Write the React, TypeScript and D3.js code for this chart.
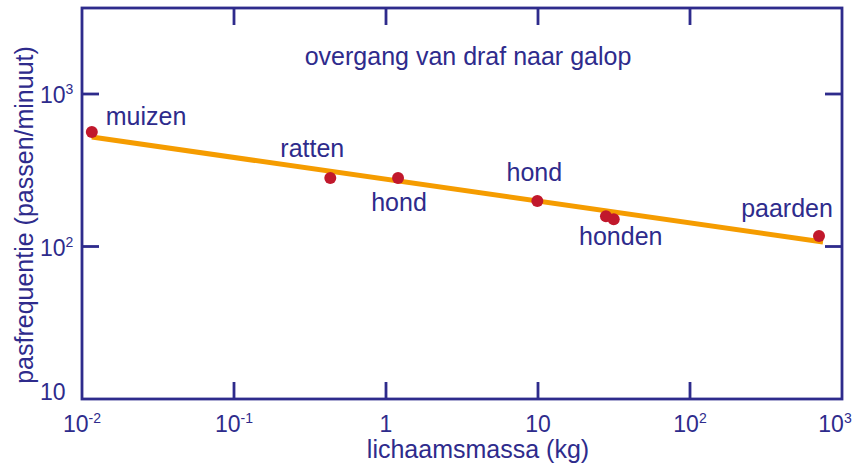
import React from "react";
import * as d3 from "d3";

// ---- data ----
const massKg = [0.0116, 0.43, 1.2, 9.9, 28, 31.5, 706];
const stepFreq = [564, 281, 281, 199, 158, 151, 117];
const fitMass = [0.0116, 750];
const fitFreq = [522, 107];
const labelTexts = ["muizen", "ratten", "hond", "hond", "honden", "paarden"];
const labelPointIndex = [0, 1, 2, 3, 5, 6];
const xTickValues = [0.01, 0.1, 1, 10, 100, 1000];
const xTickExp = ["-2", "-1", "", "", "2", "3"];
const xTickBase = ["10", "10", "1", "10", "10", "10"];
const yTickValues = [10, 100, 1000];
const yTickBase = ["10", "10", "10"];
const yTickExp = ["", "2", "3"];
const title = "overgang van draf naar galop";
const xTitle = "lichaamsmassa (kg)";
const yTitle = "pasfrequentie (passen/minuut)";

// ---- layout ----
const W = 868, H = 467;
const L = 82, R = 842, T = 8, B = 399;
const BLUE = "#2e2b8c";
const RED = "#c1182c";
const ORANGE = "#f59c00";
const FONT = "'Liberation Sans', Arial, Helvetica, sans-serif";
const TICK = 17;
// label offsets (px) relative to their point: [dx, dy, anchor]
const labelOffsets: [number, number, string][] = [
  [14, -7, "start"],
  [-18, -21, "middle"],
  [1, 33, "middle"],
  [-3, -20, "middle"],
  [7, 26, "middle"],
  [-32, -19, "middle"],
];

export default function App() {
  const x = d3.scaleLog().domain([0.01, 1000]).range([L, R]);
  const y = d3.scaleLog().domain([10, Math.pow(10, 3.564)]).range([B, T]);
  const line = d3
    .line<number>()
    .x((_, i) => x(fitMass[i]))
    .y((d) => y(d));

  const innerX = xTickValues.filter((v) => v > 0.01 && v < 1000);
  const innerY = yTickValues.filter((v) => v > 10);

  return (
    <svg
      width={W}
      height={H}
      style={{ position: "absolute", left: 0, top: 0, background: "#fff" }}
      fontFamily={FONT}
    >
      {/* frame */}
      <rect x={L} y={T} width={R - L} height={B - T} fill="none" stroke={BLUE} strokeWidth={2.8} />
      {/* x ticks bottom and top */}
      {innerX.map((v, i) => (
        <g key={"xt" + i} stroke={BLUE} strokeWidth={2.8}>
          <line x1={x(v)} x2={x(v)} y1={B} y2={B - TICK} />
          <line x1={x(v)} x2={x(v)} y1={T} y2={T + TICK} />
        </g>
      ))}
      {innerY.map((v, i) => (
        <g key={"yt" + i} stroke={BLUE} strokeWidth={2.8}>
          <line x1={L} x2={L + TICK} y1={y(v)} y2={y(v)} />
          <line x1={R} x2={R - TICK} y1={y(v)} y2={y(v)} />
        </g>
      ))}
      {/* x tick labels */}
      {xTickValues.map((v, i) => (
        <text
          key={"xl" + i}
          x={x(v) + (i === xTickValues.length - 1 ? -7 : 0)}
          y={432}
          fill={BLUE}
          fontSize={23}
          textAnchor="middle"
        >
          {xTickBase[i]}
          {xTickExp[i] && (
            <tspan fontSize={14} dy={-9}>
              {xTickExp[i]}
            </tspan>
          )}
        </text>
      ))}
      {/* y tick labels */}
      {yTickValues.map((v, i) => (
        <text
          key={"yl" + i}
          x={40}
          y={y(v) + (i === 0 ? 1 : 9)}
          fill={BLUE}
          fontSize={23}
          textAnchor="start"
        >
          {yTickBase[i]}
          {yTickExp[i] && (
            <tspan fontSize={14} dy={-9}>
              {yTickExp[i]}
            </tspan>
          )}
        </text>
      ))}
      {/* axis titles */}
      <text x={478} y={458} fill={BLUE} fontSize={25} textAnchor="middle">
        {xTitle}
      </text>
      <text
        transform={`translate(33, 215) rotate(-90)`}
        fill={BLUE}
        fontSize={25}
        textAnchor="middle"
      >
        {yTitle}
      </text>
      <text x={468} y={65} fill={BLUE} fontSize={25} textAnchor="middle">
        {title}
      </text>
      {/* fit line */}
      <path d={line(fitFreq) || ""} fill="none" stroke={ORANGE} strokeWidth={5} />
      {/* points */}
      {massKg.map((m, i) => (
        <circle key={"p" + i} cx={x(m)} cy={y(stepFreq[i])} r={6} fill={RED} />
      ))}
      {/* point labels */}
      {labelTexts.map((t, i) => {
        const pi = labelPointIndex[i];
        const [dx, dy, anchor] = labelOffsets[i];
        return (
          <text
            key={"lab" + i}
            x={x(massKg[pi]) + dx}
            y={y(stepFreq[pi]) + dy}
            fill={BLUE}
            fontSize={25}
            textAnchor={anchor as any}
          >
            {t}
          </text>
        );
      })}
    </svg>
  );
}
